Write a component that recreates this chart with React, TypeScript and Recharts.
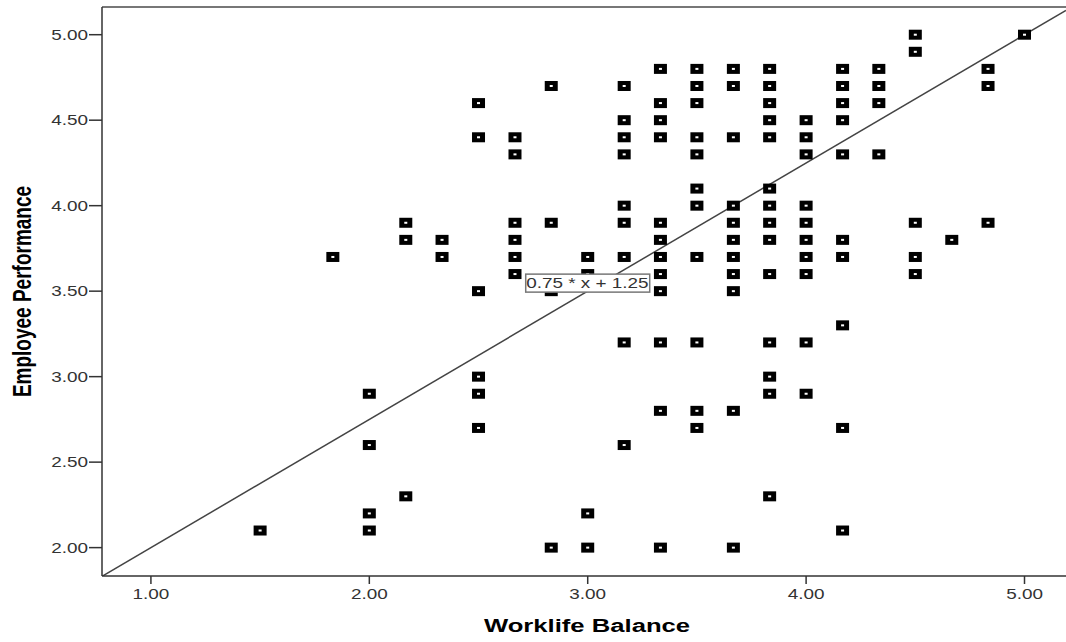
import { ScatterChart, Scatter, XAxis, YAxis, ReferenceLine, ReferenceDot } from 'recharts';

// Worklife Balance levels (means of 6 items) and the Employee Performance
// scores observed at each level
const WORKLIFE_LEVELS = [
  1.5, 1.833, 2.0, 2.167, 2.333, 2.5, 2.667, 2.833, 3.0, 3.167, 3.333,
  3.5, 3.667, 3.833, 4.0, 4.167, 4.333, 4.5, 4.667, 4.833, 5.0,
];

const PERFORMANCE_BY_LEVEL = [
  [2.1],
  [3.7],
  [2.9, 2.6, 2.2, 2.1],
  [3.9, 3.8, 2.3],
  [3.8, 3.7],
  [4.6, 4.4, 3.5, 3.0, 2.9, 2.7],
  [4.4, 4.3, 3.9, 3.8, 3.7, 3.6],
  [4.7, 3.9, 3.5, 2.0],
  [3.7, 3.6, 2.2, 2.0],
  [4.7, 4.5, 4.4, 4.3, 4.0, 3.9, 3.7, 3.2, 2.6],
  [4.8, 4.6, 4.5, 4.4, 3.9, 3.8, 3.7, 3.6, 3.5, 3.2, 2.8, 2.0],
  [4.8, 4.7, 4.6, 4.4, 4.3, 4.1, 4.0, 3.7, 3.2, 2.8, 2.7],
  [4.8, 4.7, 4.4, 4.0, 3.9, 3.8, 3.7, 3.6, 3.5, 2.8, 2.0],
  [4.8, 4.7, 4.6, 4.5, 4.4, 4.1, 4.0, 3.9, 3.8, 3.6, 3.2, 3.0, 2.9, 2.3],
  [4.5, 4.4, 4.3, 4.0, 3.9, 3.8, 3.7, 3.6, 3.2, 2.9],
  [4.8, 4.7, 4.6, 4.5, 4.3, 3.8, 3.7, 3.3, 2.7, 2.1],
  [4.8, 4.7, 4.6, 4.3],
  [5.0, 4.9, 3.9, 3.7, 3.6],
  [3.8],
  [4.8, 4.7, 3.9],
  [5.0],
];

const X_TICKS = [1, 2, 3, 4, 5];
const Y_TICKS = [2, 2.5, 3, 3.5, 4, 4.5, 5];

const X_DOMAIN = [0.776, 5.19];
const Y_DOMAIN = [1.834, 5.162];

// fit line
const SLOPE = 0.75;
const INTERCEPT = 1.25;
const FIT_LABEL = '0.75 * x + 1.25';
const FIT_LABEL_AT = { x: 3.0, y: 3.547 };

const points = WORKLIFE_LEVELS.flatMap((x, i) =>
  PERFORMANCE_BY_LEVEL[i].map((y) => ({ x, y }))
);

const FONT = '"Liberation Sans", Arial, sans-serif';
const STRETCH = 1.35; // the SPSS export is stretched horizontally

const fmt = (v: number) => v.toFixed(2);

const SquareMarker = ({ cx, cy }: any) => (
  <g>
    <rect x={cx - 6.5} y={cy - 5} width={13} height={10} fill="#000" />
    <rect x={cx - 1.5} y={cy - 1} width={3} height={2} fill="#fff" />
  </g>
);

const XTick = ({ x, y, payload }: any) => (
  <g transform={`translate(${x},${y})`}>
    <text transform={`scale(${STRETCH},1)`} textAnchor="middle" dy="0.71em" fontSize={14} fill="#333" fontFamily={FONT}>
      {fmt(payload.value)}
    </text>
  </g>
);

const YTick = ({ x, y, payload }: any) => (
  <g transform={`translate(${x},${y})`}>
    <text transform={`scale(${STRETCH},1)`} textAnchor="end" dy="0.36em" fontSize={14} fill="#333" fontFamily={FONT}>
      {fmt(payload.value)}
    </text>
  </g>
);

const XTitle = ({ viewBox }: any) => (
  <g transform={`translate(${viewBox.x + viewBox.width / 2 + 3},${viewBox.y + 56})`}>
    <text transform={`scale(${STRETCH},1)`} textAnchor="middle" fontSize={19} fontWeight="bold" fill="#000" fontFamily={FONT}>
      Worklife Balance
    </text>
  </g>
);

const YTitle = ({ viewBox }: any) => (
  <g transform={`translate(31,${viewBox.y + viewBox.height / 2})`}>
    <text transform={`scale(${STRETCH},1) rotate(-90)`} textAnchor="middle" fontSize={19} fontWeight="bold" fill="#000" fontFamily={FONT}>
      Employee Performance
    </text>
  </g>
);

const FitLabel = ({ cx, cy }: any) => (
  <g>
    <rect x={cx - 62} y={cy - 9} width={124} height={18} fill="#fff" stroke="#777" strokeWidth={1.5} />
    <g transform={`translate(${cx - 61.5},${cy + 5})`}>
      <text transform={`scale(${STRETCH},1)`} fontSize={14} fill="#333" fontFamily={FONT}>
        {FIT_LABEL}
      </text>
    </g>
  </g>
);

export default function App() {
  return (
    <div style={{ position: 'absolute', left: 0, top: 0, background: '#fff' }}>
      <ScatterChart width={1066} height={642} margin={{ top: 7, right: 0, bottom: 0, left: 0 }}>
        <XAxis
          type="number"
          dataKey="x"
          domain={X_DOMAIN}
          allowDataOverflow
          ticks={X_TICKS}
          tick={<XTick />}
          tickSize={8}
          tickMargin={5}
          height={66}
          axisLine={{ stroke: '#333', strokeWidth: 1.5 }}
          tickLine={{ stroke: '#333', strokeWidth: 1.5 }}
          label={<XTitle />}
        />
        <YAxis
          type="number"
          dataKey="y"
          domain={Y_DOMAIN}
          allowDataOverflow
          ticks={Y_TICKS}
          tick={<YTick />}
          tickSize={13}
          tickMargin={1}
          width={102}
          axisLine={{ stroke: '#333', strokeWidth: 1.5 }}
          tickLine={{ stroke: '#333', strokeWidth: 1.5 }}
          label={<YTitle />}
        />
        <ReferenceLine y={Y_DOMAIN[1]} stroke="#777" strokeWidth={2} />
        <ReferenceLine
          segment={[
            { x: X_DOMAIN[0], y: SLOPE * X_DOMAIN[0] + INTERCEPT },
            { x: X_DOMAIN[1], y: SLOPE * X_DOMAIN[1] + INTERCEPT },
          ]}
          stroke="#444"
          strokeWidth={1.5}
          ifOverflow="hidden"
        />
        <Scatter data={points} shape={<SquareMarker />} isAnimationActive={false} />
        <ReferenceDot x={FIT_LABEL_AT.x} y={FIT_LABEL_AT.y} r={0} shape={<FitLabel />} />
      </ScatterChart>
    </div>
  );
}
